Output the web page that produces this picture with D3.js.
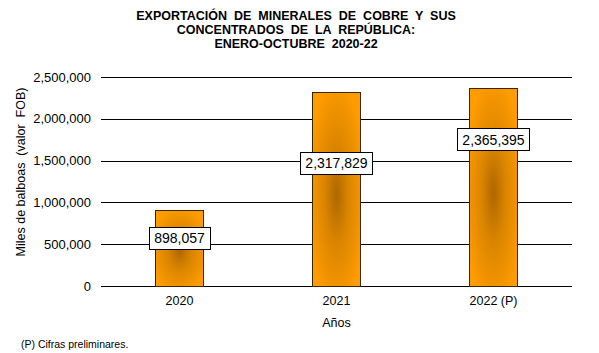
<!DOCTYPE html>
<html>
<head>
<meta charset="utf-8">
<script src="https://cdn.jsdelivr.net/npm/d3@7"></script>
<style>
  body { margin: 0; background: #fff; }
  text { font-family: Arial, "Liberation Sans", sans-serif; fill: #000; white-space: pre; }
</style>
</head>
<body>
<div id="chart"></div>
<script>
const years = ['2020', '2021', '2022 (P)'];
const values = [898057, 2317829, 2365395];
// where each data label box sits (in value units), as placed in the original
const labelAt = [574000, 1471000, 1752000];
const yTicks = [0, 500000, 1000000, 1500000, 2000000, 2500000];
const titleLines = [
  'EXPORTACIÓN  DE  MINERALES  DE  COBRE  Y  SUS',
  'CONCENTRADOS  DE  LA  REPÚBLICA:',
  'ENERO-OCTUBRE  2020-22'
];

const dims = { width: 599, height: 353 };
const margins = { left: 101, right: 27, top: 77, bottom: 67 };

const svg = d3.select('#chart')
  .append('svg')
  .attr('width', dims.width)
  .attr('height', dims.height);

const defs = svg.append('defs');
const grad = defs.append('radialGradient')
  .attr('id', 'barFill')
  .attr('cx', '50%').attr('cy', '53%')
  .attr('r', '60%')
  .attr('fx', '50%').attr('fy', '53%');
grad.append('stop').attr('offset', '0%').attr('stop-color', '#ad6800');
grad.append('stop').attr('offset', '40%').attr('stop-color', '#d98400');
grad.append('stop').attr('offset', '100%').attr('stop-color', '#ff9c00');

const g = svg.append('g')
  .attr('transform', `translate(${margins.left},${margins.top})`);

const w = dims.width - margins.left - margins.right;
const h = dims.height - margins.top - margins.bottom;

const xScale = d3.scaleBand().domain(years).range([0, w]).paddingInner(0.69).paddingOuter(0.345);
const yScale = d3.scaleLinear().domain([0, 2500000]).range([h, 0]);

// gridlines
const yAxis = d3.axisLeft(yScale)
  .tickValues(yTicks)
  .tickSize(-w)
  .tickPadding(10)
  .tickFormat(d3.format(','));

const yAxisGroup = g.append('g').attr('class', 'y-axis').call(yAxis);
yAxisGroup.select('.domain').remove();
yAxisGroup.selectAll('line').attr('stroke', '#000').attr('stroke-width', 1).attr('shape-rendering', 'crispEdges');
yAxisGroup.selectAll('text').attr('font-size', 13).attr('fill', '#000');

// bars
g.selectAll('rect.bar')
  .data(values)
  .join('rect')
    .attr('class', 'bar')
    .attr('x', (d, i) => xScale(years[i]))
    .attr('y', d => yScale(d))
    .attr('width', xScale.bandwidth())
    .attr('height', d => h - yScale(d))
    .attr('fill', 'url(#barFill)')
    .attr('stroke', '#3b2500')
    .attr('stroke-width', 1)
    .attr('shape-rendering', 'crispEdges');

// x axis
const xAxis = d3.axisBottom(xScale).tickSize(0).tickPadding(10);
const xAxisGroup = g.append('g')
  .attr('class', 'x-axis')
  .attr('transform', `translate(0,${h})`)
  .call(xAxis);
xAxisGroup.select('.domain').remove();
xAxisGroup.selectAll('text').attr('font-size', 12.5).attr('fill', '#000');

// data labels
const labels = g.selectAll('g.label')
  .data(values)
  .join('g')
    .attr('class', 'label')
    .attr('transform', (d, i) => `translate(${xScale(years[i]) + xScale.bandwidth() / 2},${yScale(labelAt[i])})`);

labels.each(function(d) {
  const lg = d3.select(this);
  const t = lg.append('text')
    .attr('text-anchor', 'middle')
    .attr('dy', '0.36em')
    .attr('font-size', 14)
    .text(d3.format(',')(d));
  const bb = t.node().getBBox();
  lg.insert('rect', 'text')
    .attr('x', bb.x - 5)
    .attr('y', -11)
    .attr('width', bb.width + 10)
    .attr('height', 22)
    .attr('fill', '#fff')
    .attr('stroke', '#000')
    .attr('stroke-width', 1)
    .attr('shape-rendering', 'crispEdges');
});

// title
svg.append('g')
  .selectAll('text')
  .data(titleLines)
  .join('text')
    .attr('x', 296)
    .attr('y', (d, i) => 19.5 + i * 14.3)
    .attr('text-anchor', 'middle')
    .attr('font-size', 12.5)
    .attr('font-weight', 'bold')
    .text(d => d);

// axis titles
svg.append('text')
  .attr('text-anchor', 'middle')
  .attr('font-size', 12.5)
  .attr('transform', `translate(25,172) rotate(-90)`)
  .text('Miles de balboas  (valor  FOB)');

svg.append('text')
  .attr('x', margins.left + w / 2)
  .attr('y', 327)
  .attr('text-anchor', 'middle')
  .attr('font-size', 12.5)
  .text('Años');

svg.append('text')
  .attr('x', 21)
  .attr('y', 348)
  .attr('font-size', 10.5)
  .text('(P) Cifras preliminares.');
</script>
</body>
</html>
